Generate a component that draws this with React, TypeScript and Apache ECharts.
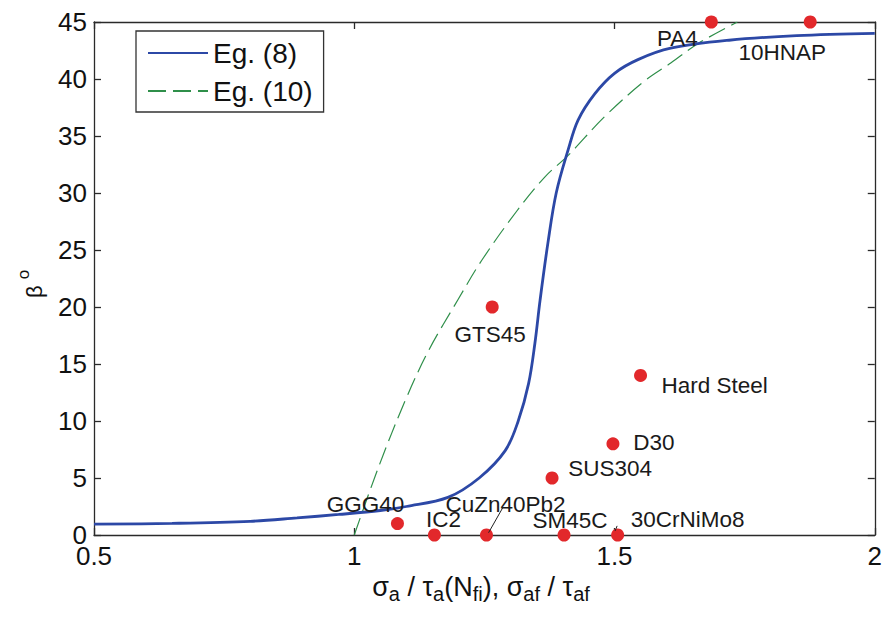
import React, { useEffect, useRef } from 'react';
import * as echarts from 'echarts';

// Eq. (8) curve
const eq8X = [0.5, 0.65, 0.8, 0.89, 0.97, 1.05, 1.1, 1.18, 1.24, 1.29, 1.315, 1.335, 1.347, 1.357, 1.372, 1.388, 1.411, 1.43, 1.462, 1.5, 1.545, 1.608, 1.72, 1.85, 2.0];
const eq8Y = [0.95, 1.02, 1.2, 1.5, 1.8, 2.15, 2.5, 3.3, 5.0, 7.4, 10.0, 13.3, 16.8, 20.6, 25.6, 30.0, 33.8, 36.4, 38.7, 40.5, 41.7, 42.7, 43.4, 43.8, 44.0];

// Eq. (10) curve
const eq10X = [1.0, 1.047, 1.098, 1.143, 1.2, 1.245, 1.312, 1.366, 1.411, 1.481, 1.557, 1.608, 1.66, 1.736];
const eq10Y = [0, 6.0, 11.8, 16.2, 20.7, 24.1, 28.4, 31.4, 33.3, 36.7, 39.8, 41.4, 43.1, 45];

// Experimental materials
const materials = ['PA4', '10HNAP', 'GTS45', 'Hard Steel', 'D30', 'SUS304', 'GGG40', 'IC2', 'CuZn40Pb2', 'SM45C', '30CrNiMo8'];
const ratios = [1.686, 1.876, 1.265, 1.55, 1.497, 1.38, 1.083, 1.154, 1.254, 1.403, 1.506];
const betas = [45, 45, 20, 14, 8, 5, 1, 0, 0, 0, 0];

const legendNames = ['Eg. (8)', 'Eg. (10)'];

const FONT = "'Liberation Sans', Arial, sans-serif";

// label placement relative to each dot (pixels)
const labelOffsets: Record<string, number[]> = {
  'PA4': [-34, 16],
  '10HNAP': [-28, 30],
  'GTS45': [-2, 27],
  'Hard Steel': [74, 10],
  'D30': [41, -1],
  'SUS304': [58, -10],
  'GGG40': [-32, -19],
  'IC2': [9, -16],
  'CuZn40Pb2': [19, -31],
  'SM45C': [6, -15],
  '30CrNiMo8': [70, -16],
};

export default function App() {
  const ref = useRef<HTMLDivElement>(null);
  useEffect(() => {
    if (!ref.current) return;
    const chart = echarts.init(ref.current, undefined, { renderer: 'svg' });
    const axisColor = '#2a2a2a';
    const axisLine = { show: true, onZero: false, lineStyle: { color: axisColor, width: 1.3 } };
    const axisTick = { show: true, inside: true, length: 7, lineStyle: { color: axisColor, width: 1.3 } };
    const baseX = { type: 'value', min: 0.5, max: 2, interval: 0.5, splitLine: { show: false }, axisLine, axisTick };
    const baseY = { type: 'value', min: 0, max: 45, interval: 5, splitLine: { show: false }, axisLine, axisTick };

    const scatterData = materials.map((m, i) => {
      const off = labelOffsets[m] || [0, 0];
      return {
        name: m,
        value: [ratios[i], betas[i]],
        label: { show: true, position: 'inside', offset: off, formatter: m },
      };
    });
    const cuIdx = materials.indexOf('CuZn40Pb2');
    const crIdx = materials.indexOf('30CrNiMo8');

    const option: any = {
      animation: false,
      grid: { left: 94, right: 7, top: 22, bottom: 82, containLabel: false },
      xAxis: [
        { ...baseX, position: 'bottom', axisLabel: { show: true, fontSize: 26, color: '#111', margin: 8, fontFamily: FONT } },
        { ...baseX, position: 'top', axisLabel: { show: false } },
      ],
      yAxis: [
        { ...baseY, position: 'left', axisLabel: { show: true, fontSize: 26, color: '#111', margin: 7, fontFamily: FONT } },
        { ...baseY, position: 'right', axisLabel: { show: false } },
      ],
      legend: {
        data: legendNames,
        orient: 'vertical',
        left: 136,
        top: 31,
        padding: [8, 11, 7, 11],
        itemWidth: 60,
        itemHeight: 14,
        itemGap: 10,
        borderColor: '#333',
        borderWidth: 1.3,
        backgroundColor: '#fff',
        itemStyle: { opacity: 0 },
        textStyle: { fontSize: 28, color: '#111', fontFamily: FONT },
      },
      series: [
        {
          name: legendNames[0],
          type: 'line',
          data: eq8X.map((x, i) => [x, eq8Y[i]]),
          showSymbol: false,
          symbol: 'none',
          smooth: 0.35,
          lineStyle: { color: '#2c48a6', width: 2.8 },
          itemStyle: { color: '#2c48a6' },
          z: 3,
        },
        {
          name: legendNames[1],
          type: 'line',
          data: eq10X.map((x, i) => [x, eq10Y[i]]),
          showSymbol: false,
          symbol: 'none',
          smooth: 0.35,
          lineStyle: { color: '#2f8f4a', width: 1.2, type: [18, 7] },
          itemStyle: { color: '#2f8f4a' },
          z: 2,
        },
        {
          name: 'materials',
          type: 'scatter',
          data: scatterData,
          symbol: 'circle',
          symbolSize: 13,
          itemStyle: { color: '#e2282b', opacity: 1 },
          label: { color: '#1a1a1a', fontSize: 22.5, fontFamily: FONT, align: 'center', verticalAlign: 'middle' },
          z: 4,
          markLine: {
            silent: true,
            symbol: ['none', 'none'],
            label: { show: false },
            lineStyle: { color: '#222', width: 1, type: 'solid' },
            data: [
              [
                { coord: [ratios[cuIdx] + 0.004, betas[cuIdx] + 0.2] },
                { coord: [ratios[cuIdx] + 0.032, betas[cuIdx] + 2.45] },
              ],
              [
                { coord: [ratios[crIdx] - 0.005, betas[crIdx] + 0.35] },
                { coord: [ratios[crIdx] - 0.001, betas[crIdx] + 0.8] },
              ],
            ],
          },
        },
      ],
      graphic: [
        {
          type: 'text',
          x: 481,
          y: 590,
          style: {
            text: '{m|σ}{s|a}{m| / τ}{s|a}{m|(N}{s|fi}{m|), σ}{s|af}{m| / τ}{s|af}',
            align: 'center',
            verticalAlign: 'middle',
            fill: '#111',
            rich: {
              m: { fontSize: 27, fontFamily: FONT, fill: '#111', lineHeight: 34, verticalAlign: 'top' },
              s: { fontSize: 20, fontFamily: FONT, fill: '#111', lineHeight: 34, padding: [11, 0, 0, 0], verticalAlign: 'top' },
            },
          },
        },
        {
          type: 'text',
          x: 30,
          y: 284,
          rotation: Math.PI / 2,
          style: {
            text: '{m|β }{s|o}',
            align: 'center',
            verticalAlign: 'middle',
            fill: '#111',
            rich: {
              m: { fontSize: 22, fontFamily: FONT, fill: '#111', lineHeight: 30, verticalAlign: 'bottom' },
              s: { fontSize: 17, fontFamily: FONT, fill: '#111', lineHeight: 14, verticalAlign: 'top' },
            },
          },
        },
      ],
    };
    chart.setOption(option);
    return () => chart.dispose();
  }, []);
  return <div ref={ref} style={{ position: 'absolute', left: 0, top: 0, width: 885, height: 617 }} />;
}
